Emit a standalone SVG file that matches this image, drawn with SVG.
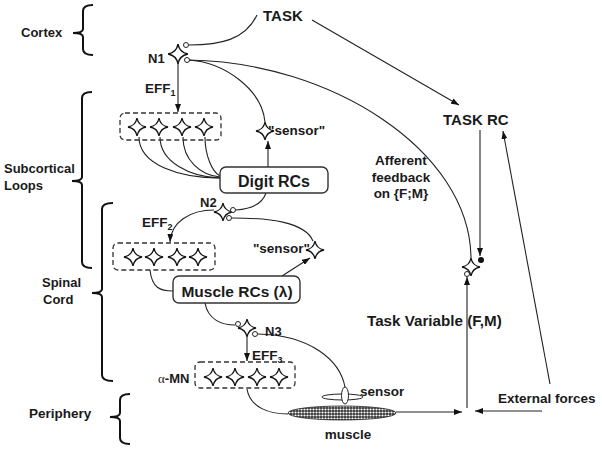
<svg xmlns="http://www.w3.org/2000/svg" width="602" height="453" viewBox="0 0 602 453">
<style>
text{font-family:"Liberation Sans",Arial,sans-serif;font-weight:bold;fill:#1a1a1a}
.ln{fill:none;stroke:#222;stroke-width:1.1}
.br{fill:none;stroke:#111;stroke-width:2}
.st{fill:#fff;stroke:#111;stroke-width:1.3}
.dbox{fill:none;stroke:#333;stroke-width:1.3;stroke-dasharray:5,3}
.box{fill:#fff;stroke:#333;stroke-width:1.4}
.oc{fill:#fff;stroke:#222;stroke-width:1}
</style>
<defs>
<path id="star" d="M0,-9 Q1.4,-1.4 9,0 Q1.4,1.4 0,9 Q-1.4,1.4 -9,0 Q-1.4,-1.4 0,-9Z"/>
<marker id="ah" markerWidth="8" markerHeight="6" refX="8" refY="3" orient="auto" markerUnits="userSpaceOnUse">
<path d="M0,0 L8,3 L0,6z" fill="#111"/>
</marker>
<pattern id="dots" width="3" height="3" patternUnits="userSpaceOnUse">
<rect width="3" height="3" fill="#333"/>
<circle cx="1.5" cy="1.5" r="1.1" fill="#fff"/>
</pattern>
</defs>

<g id="braces">
<path class="br" d="M93,5 Q83,5 83,11 L83,29 Q83,33 73,33 Q83,33 83,37 L83,49 Q83,55 93,55"/>
<path class="br" d="M92,92 Q82,92 82,98 L82,177 Q82,181 72,181 Q82,181 82,185 L82,262 Q82,268 92,268"/>
<path class="br" d="M113,203 Q102,203 102,209 L102,289 Q102,293 92,293 Q102,293 102,297 L102,375 Q102,381 113,381"/>
<path class="br" d="M130,394 Q120,394 120,400 L120,413 Q120,417 110,417 Q120,417 120,421 L120,438 Q120,444 130,444"/>
</g>
<g id="region-labels" font-size="13">
<text x="21" y="37">Cortex</text>
<text x="4" y="173">Subcortical</text>
<text x="4" y="190">Loops</text>
<text x="42" y="287">Spinal</text>
<text x="43" y="304">Cord</text>
<text x="29" y="418" font-size="13.5">Periphery</text>
</g>

<g id="connectors">
<path class="ln" d="M257,15 C245,40 220,45 189,45"/>
<path class="ln" d="M189,60 C330,62 470,150 471,258"/>
<path class="ln" d="M188,60 C225,62 262,90 265,122"/>
<path class="ln" d="M178,64 L178,112" marker-end="url(#ah)"/>
<path class="ln" d="M312,20 L459,105" marker-end="url(#ah)"/>
<path class="ln" d="M139,137 C139,165 180,178 220,178"/>
<path class="ln" d="M160,137 C160,162 190,177 220,178"/>
<path class="ln" d="M183,137 C183,160 200,175 220,177"/>
<path class="ln" d="M205,137 C205,155 212,172 220,176"/>
<path class="ln" d="M268,167 L268,141" marker-end="url(#ah)"/>
<path class="ln" d="M266,193 C262,205 250,209 236,210"/>
<path class="ln" d="M214,210 C190,210 171,222 170,242" marker-end="url(#ah)"/>
<path class="ln" d="M232,218 C270,218 305,222 313,241"/>
<path class="ln" d="M282,276 L310,258" marker-end="url(#ah)"/>
<path class="ln" d="M150,270 C152,288 160,291 173,291"/>
<path class="ln" d="M205,303 C208,320 222,325 235,325"/>
<path class="ln" d="M247,337 L247,361" marker-end="url(#ah)"/>
<path class="ln" d="M258,334 C310,335 340,360 345,387"/>
<path class="ln" d="M247,389 C250,408 270,414 288,414"/>
<path class="ln" d="M396,412 L462,412" marker-end="url(#ah)"/>
<path class="ln" d="M542,411 L475,411" marker-end="url(#ah)"/>
<path class="ln" d="M467,408 L467,277" marker-end="url(#ah)"/>
<path class="ln" d="M480,130 L480,256" marker-end="url(#ah)"/>
<path class="ln" d="M550,384 L503,131" marker-end="url(#ah)"/>
</g>

<g id="task"><text x="263" y="21" font-size="15">TASK</text></g>

<g id="n1">
<use href="#star" class="st" transform="translate(178,54) scale(1.1)"/>
<circle class="oc" cx="186" cy="45" r="2.5"/>
<circle class="oc" cx="187" cy="60" r="2.5"/>
<text x="148" y="63" font-size="13">N1</text>
</g>
<g id="eff1"><text x="145" y="93" font-size="13.5">EFF<tspan font-size="9" dy="3">1</tspan></text></g>

<g id="digit-neurons">
<rect class="dbox" x="120" y="113" width="101" height="27" rx="5"/>
<use href="#star" class="st" x="137" y="127"/>
<use href="#star" class="st" x="159" y="127"/>
<use href="#star" class="st" x="182" y="127"/>
<use href="#star" class="st" x="204" y="127"/>
</g>

<g id="sensor1">
<use href="#star" class="st" x="265" y="131"/>
<text x="268" y="135" font-size="13.5">"sensor"</text>
</g>

<g id="digit-rcs">
<rect class="box" x="220" y="167" width="108" height="26" rx="6"/>
<text x="274" y="187" font-size="16" text-anchor="middle">Digit RCs</text>
</g>

<g id="n2">
<use href="#star" class="st" x="223" y="212"/>
<circle class="oc" cx="233" cy="210" r="2.5"/>
<circle class="oc" cx="229" cy="218" r="2.5"/>
<text x="200" y="207" font-size="13">N2</text>
</g>
<g id="eff2"><text x="142" y="227" font-size="13.5">EFF<tspan font-size="9" dy="3">2</tspan></text></g>

<g id="muscle-neurons">
<rect class="dbox" x="113" y="243" width="102" height="27" rx="5"/>
<use href="#star" class="st" x="133" y="257"/>
<use href="#star" class="st" x="154" y="257"/>
<use href="#star" class="st" x="177" y="257"/>
<use href="#star" class="st" x="198" y="257"/>
</g>

<g id="sensor2">
<use href="#star" class="st" x="315" y="250"/>
<text x="310" y="253" font-size="13.5" text-anchor="end">"sensor"</text>
</g>

<g id="muscle-rcs">
<rect class="box" x="173" y="276" width="127" height="27" rx="6"/>
<text x="237" y="297" font-size="15.5" text-anchor="middle">Muscle RCs (λ)</text>
</g>

<g id="n3">
<use href="#star" class="st" x="247" y="328"/>
<circle class="oc" cx="238" cy="324" r="2.5"/>
<circle class="oc" cx="255" cy="334" r="2.5"/>
<text x="265" y="336" font-size="13">N3</text>
</g>
<g id="eff3"><text x="252" y="360" font-size="13.5">EFF<tspan font-size="9" dy="3">3</tspan></text></g>

<g id="alpha-mn">
<rect class="dbox" x="195" y="362" width="100" height="26" rx="5"/>
<use href="#star" class="st" x="213" y="377"/>
<use href="#star" class="st" x="235" y="377"/>
<use href="#star" class="st" x="257" y="377"/>
<use href="#star" class="st" x="279" y="377"/>
<text x="158" y="383" font-size="13"><tspan font-family="'Liberation Serif',serif" font-weight="normal">α</tspan>-MN</text>
</g>

<g id="muscle">
<ellipse cx="342" cy="413" rx="54" ry="7" fill="url(#dots)" stroke="#222" stroke-width="0.8"/>
<text x="348" y="439" font-size="13.5" text-anchor="middle">muscle</text>
</g>

<g id="sensor3">
<ellipse cx="342.5" cy="397" rx="20.5" ry="3" fill="#fff" stroke="#222" stroke-width="1"/>
<ellipse cx="345" cy="395.5" rx="3.5" ry="8.5" fill="#fff" stroke="#222" stroke-width="1"/>
<text x="360" y="396" font-size="13.5">sensor</text>
</g>

<g id="task-rc"><text x="443" y="125" font-size="15">TASK RC</text></g>

<g id="comparator">
<use href="#star" class="st" x="471" y="267"/>
<circle cx="481" cy="260" r="3" fill="#111"/>
<circle class="oc" cx="467" cy="274" r="2.5"/>
</g>

<g id="afferent" font-size="13.5" text-anchor="middle">
<text x="401" y="165">Afferent</text>
<text x="401" y="182">feedback</text>
<text x="401" y="198">on {F;M}</text>
</g>

<g id="task-variable"><text x="367" y="326" font-size="15.2">Task Variable (F,M)</text></g>
<g id="external-forces"><text x="498" y="403" font-size="13.5">External forces</text></g>
</svg>
